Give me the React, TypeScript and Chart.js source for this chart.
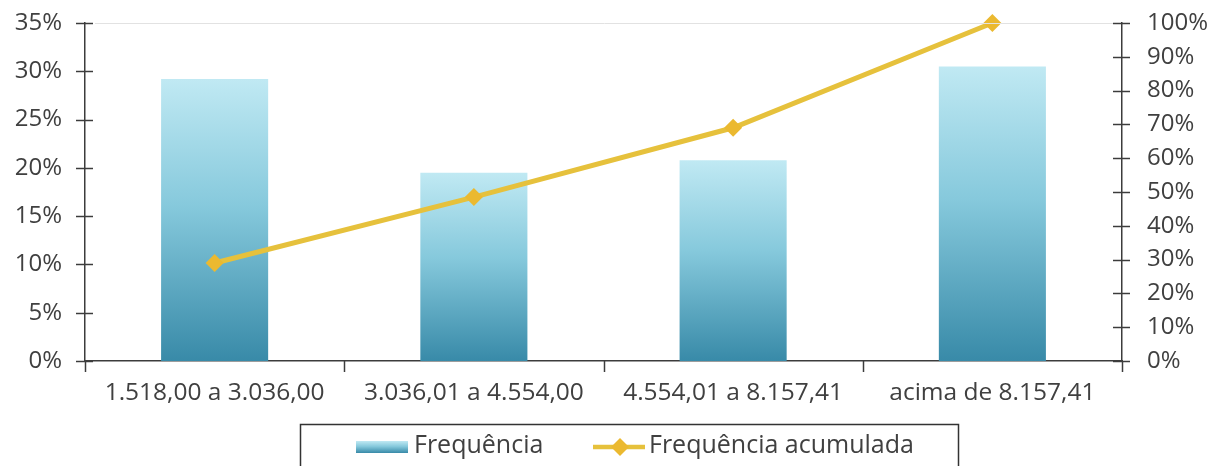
import React, { useEffect, useRef } from "react";
import { Chart, registerables } from "chart.js";

Chart.register(...registerables);

const categories = ["1.518,00 a 3.036,00", "3.036,01 a 4.554,00", "4.554,01 a 8.157,41", "acima de 8.157,41"];
const frequencia = [0.292, 0.195, 0.208, 0.305];
const acumulada = [0.29, 0.485, 0.69, 1.0];
const leftTicks = [0, 0.05, 0.1, 0.15, 0.2, 0.25, 0.3, 0.35];
const rightTicks = [0, 0.1, 0.2, 0.3, 0.4, 0.5, 0.6, 0.7, 0.8, 0.9, 1.0];
const legendLabels = ["Frequência", "Frequência acumulada"];

const FONT = "'Open Sans', 'Noto Sans', sans-serif";
const AXIS = "#3c3c3c";
const TEXT = "#404040";
const LINE = "#e6c13c";
const POINT = "#ebb930";

function barGradient(ctx: CanvasRenderingContext2D, top: number, bot: number) {
  const g = ctx.createLinearGradient(0, top, 0, bot);
  g.addColorStop(0, "#c0e9f3");
  g.addColorStop(0.45, "#86c9dc");
  g.addColorStop(1, "#388aa8");
  return g;
}

const zeroPad = (s: any) => {
  s.paddingTop = 0;
  s.paddingBottom = 0;
};

const decorPlugin = {
  id: "decor",
  afterDatasetsDraw(chart: any) {
    const ctx = chart.ctx as CanvasRenderingContext2D;
    const a = chart.chartArea;
    const x = chart.scales.x;
    const y = chart.scales.y;
    const y1 = chart.scales.y1;
    ctx.save();
    ctx.strokeStyle = "#e2e2e2";
    ctx.lineWidth = 1;
    ctx.beginPath();
    ctx.moveTo(a.left + 10, a.top + 0.5);
    ctx.lineTo(a.right - 8, a.top + 0.5);
    ctx.stroke();
    ctx.strokeStyle = AXIS;
    ctx.lineWidth = 1.5;
    for (const v of leftTicks) {
      const py = Math.round(y.getPixelForValue(v)) + 0.5;
      ctx.beginPath();
      ctx.moveTo(a.left - 9, py);
      ctx.lineTo(a.left + 8, py);
      ctx.stroke();
    }
    for (const v of rightTicks) {
      const py = Math.round(y1.getPixelForValue(v)) + 0.5;
      ctx.beginPath();
      ctx.moveTo(a.right - 9, py);
      ctx.lineTo(a.right + 8, py);
      ctx.stroke();
    }
    const step = x.getPixelForValue(1) - x.getPixelForValue(0);
    for (let i = 0; i <= categories.length; i++) {
      const px = i < categories.length ? x.getPixelForValue(i) - step / 2 : a.right;
      ctx.beginPath();
      ctx.moveTo(Math.round(px) + 0.5, a.bottom);
      ctx.lineTo(Math.round(px) + 0.5, a.bottom + 11);
      ctx.stroke();
    }
    ctx.restore();
  },
  afterDraw(chart: any) {
    const ctx = chart.ctx as CanvasRenderingContext2D;
    ctx.save();
    ctx.strokeStyle = "#333";
    ctx.lineWidth = 1.5;
    ctx.strokeRect(300.5, 424.5, 658, 60);
    const base = 453;
    const cy = 447;
    ctx.fillStyle = barGradient(ctx, cy - 6, cy + 6);
    ctx.fillRect(356, cy - 6, 52, 12);
    ctx.fillStyle = TEXT;
    ctx.font = `25px ${FONT}`;
    ctx.textBaseline = "alphabetic";
    ctx.textAlign = "left";
    ctx.fillText(legendLabels[0], 414, base);
    ctx.strokeStyle = LINE;
    ctx.lineWidth = 4.5;
    ctx.beginPath();
    ctx.moveTo(593, cy);
    ctx.lineTo(645, cy);
    ctx.stroke();
    ctx.fillStyle = POINT;
    ctx.beginPath();
    ctx.moveTo(620, cy - 9);
    ctx.lineTo(629, cy);
    ctx.lineTo(620, cy + 9);
    ctx.lineTo(611, cy);
    ctx.closePath();
    ctx.fill();
    ctx.fillStyle = TEXT;
    ctx.fillText(legendLabels[1], 649, base);
    ctx.restore();
  },
};

export default function App() {
  const ref = useRef<HTMLCanvasElement>(null);
  useEffect(() => {
    document.body.style.margin = "0";
    const canvas = ref.current!;
    const chart = new Chart(canvas, {
      type: "bar",
      data: {
        labels: categories,
        datasets: [
          {
            type: "line",
            label: legendLabels[1],
            data: acumulada,
            yAxisID: "y1",
            borderColor: LINE,
            borderWidth: 5,
            pointStyle: "rectRot",
            pointRadius: 9,
            pointBackgroundColor: POINT,
            pointBorderColor: POINT,
            pointBorderWidth: 0,
            tension: 0,
            clip: false,
            order: 0,
          } as any,
          {
            type: "bar",
            label: legendLabels[0],
            data: frequencia,
            yAxisID: "y",
            categoryPercentage: 1,
            barPercentage: 0.413,
            backgroundColor: (c: any) => {
              const ch = c.chart;
              if (!ch.chartArea || c.type !== "data") return "#86c9dc";
              const ys = ch.scales.y;
              return barGradient(ch.ctx, ys.getPixelForValue(c.raw), ys.getPixelForValue(0));
            },
            order: 1,
          } as any,
        ],
      },
      options: {
        responsive: false,
        animation: false,
        layout: { padding: { top: 23, left: 0, right: 0, bottom: 0 } },
        plugins: { legend: { display: false }, tooltip: { enabled: false } },
        scales: {
          x: {
            offset: true,
            grid: { display: false, drawTicks: false },
            border: { display: true, color: AXIS, width: 1.5 },
            ticks: { color: TEXT, font: { family: FONT, size: 24.5 }, padding: 17, maxRotation: 0 },
            afterFit: (s: any) => {
              s.height = 105;
              s.paddingLeft = 0;
              s.paddingRight = 0;
            },
          },
          y: {
            position: "left",
            min: 0,
            max: 0.35,
            grid: { display: false, drawTicks: false },
            border: { display: true, color: AXIS, width: 1.5 },
            ticks: {
              stepSize: 0.05,
              color: TEXT,
              font: { family: FONT, size: 24 },
              padding: 23,
              callback: (v: any) => `${Math.round(Number(v) * 100)}%`,
            },
            afterFit: (s: any) => {
              s.width = 85;
              zeroPad(s);
            },
          },
          y1: {
            position: "right",
            min: 0,
            max: 1,
            grid: { display: false, drawTicks: false },
            border: { display: true, color: AXIS, width: 1.5 },
            ticks: {
              stepSize: 0.1,
              color: TEXT,
              font: { family: FONT, size: 24 },
              padding: 25,
              callback: (v: any) => `${Math.round(Number(v) * 100)}%`,
            },
            afterFit: (s: any) => {
              s.width = 107;
              zeroPad(s);
            },
          },
        },
      },
      plugins: [decorPlugin],
    });
    return () => chart.destroy();
  }, []);
  return <canvas ref={ref} width={1229} height={466} style={{ display: "block" }} />;
}
